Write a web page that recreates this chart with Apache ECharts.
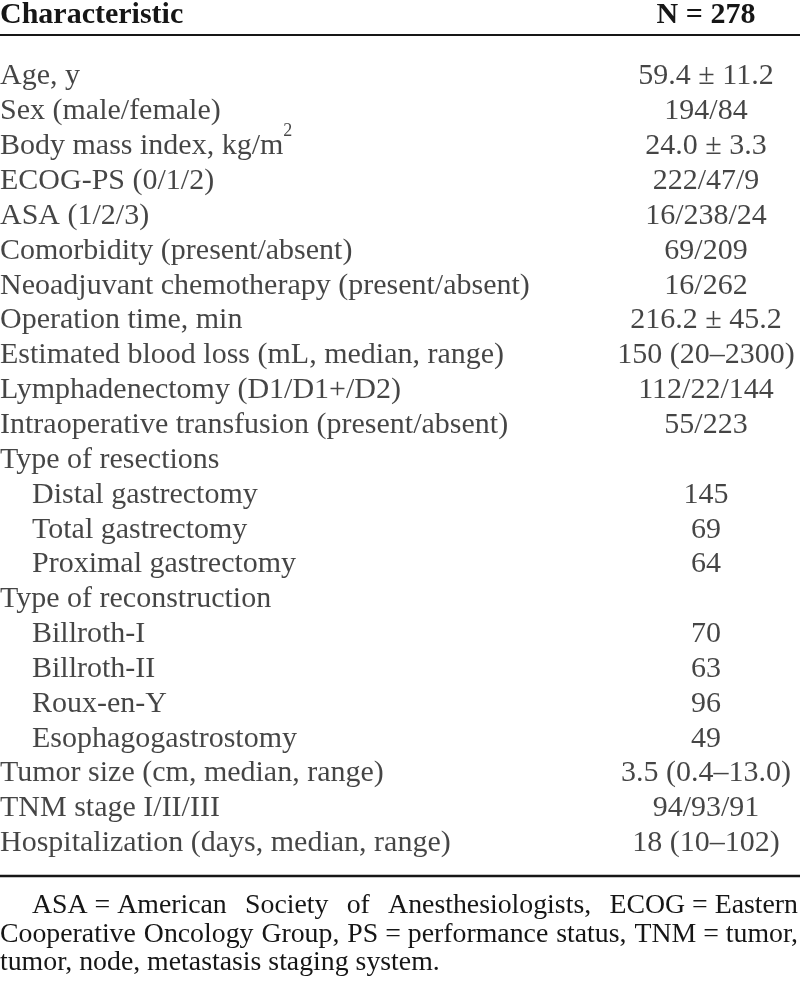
<!DOCTYPE html>
<html><head><meta charset="utf-8">
<script src="https://cdn.jsdelivr.net/npm/echarts@6/dist/echarts.min.js"></script>
<style>html,body{margin:0;padding:0;background:#fff}#c{width:800px;height:985px}</style>
</head><body><div id="c"></div>
<script>
const headerLabel = 'Characteristic';
const headerValue = 'N = 278';
const rowLabels = [
  'Age, y',
  'Sex (male/female)',
  'Body mass index, kg/m{sup|2}{tall|\u200b}',
  'ECOG-PS (0/1/2)',
  'ASA (1/2/3)',
  'Comorbidity (present/absent)',
  'Neoadjuvant chemotherapy (present/absent)',
  'Operation time, min',
  'Estimated blood loss (mL, median, range)',
  'Lymphadenectomy (D1/D1+/D2)',
  'Intraoperative transfusion (present/absent)',
  'Type of resections',
  'Distal gastrectomy',
  'Total gastrectomy',
  'Proximal gastrectomy',
  'Type of reconstruction',
  'Billroth-I',
  'Billroth-II',
  'Roux-en-Y',
  'Esophagogastrostomy',
  'Tumor size (cm, median, range)',
  'TNM stage I/II/III',
  'Hospitalization (days, median, range)'
];
const rowLevels = [0,0,0,0,0,0,0,0,0,0,0,0,1,1,1,0,1,1,1,1,0,0,0];
const rowValues = [
  '59.4 \u00b1 11.2',
  '194/84',
  '24.0 \u00b1 3.3',
  '222/47/9',
  '16/238/24',
  '69/209',
  '16/262',
  '216.2 \u00b1 45.2',
  '150 (20\u20132300)',
  '112/22/144',
  '55/223',
  '',
  '145',
  '69',
  '64',
  '',
  '70',
  '63',
  '96',
  '49',
  '3.5 (0.4\u201313.0)',
  '94/93/91',
  '18 (10\u2013102)'
];
const footnoteLines = [
  ['ASA = American', 'Society', 'of', 'Anesthesiologists,', 'ECOG = Eastern'],
  ['Cooperative', 'Oncology', 'Group,', 'PS = performance', 'status,', 'TNM = tumor,'],
  ['tumor, node, metastasis staging system.']
];

const FONT = '"Liberation Serif","Times New Roman",Times,serif';
const INK = '#161616';
const INDENT = 32;
const VALUE_X = 706;
const ROW_H = 34.85;
const FIRST_MID = 76.6;

const chart = echarts.init(document.getElementById('c'), null, {renderer: 'canvas'});

const cv = document.createElement('canvas').getContext('2d');
function measure(t, size) { cv.font = size + 'px ' + FONT; return cv.measureText(t).width; }

const footSize = 27.8;
const footMid = [905.5, 934.5, 962.5];
const footSpan = [[32, 798], [0, 798], null];
const graphics = [
  {type: 'line', shape: {x1: 0, y1: 35, x2: 800, y2: 35}, style: {stroke: INK, lineWidth: 2}, silent: true},
  {type: 'line', shape: {x1: 0, y1: 876, x2: 800, y2: 876}, style: {stroke: INK, lineWidth: 2.5}, silent: true},
  {type: 'text', x: 0, y: 15.5, silent: true,
   style: {text: headerLabel, font: 'bold 30px ' + FONT, fill: INK, textAlign: 'left', textVerticalAlign: 'middle', verticalAlign: 'middle'}},
  {type: 'text', x: VALUE_X, y: 15.5, silent: true,
   style: {text: headerValue, font: 'bold 30px ' + FONT, fill: INK, textAlign: 'center', align: 'center', textVerticalAlign: 'middle', verticalAlign: 'middle'}}
];
footnoteLines.forEach((words, li) => {
  const span = footSpan[li];
  if (!span) {
    graphics.push({type: 'text', x: 0, y: footMid[li], silent: true,
      style: {text: words.join(' '), font: footSize + 'px ' + FONT, fill: INK, textAlign: 'left', textVerticalAlign: 'middle', verticalAlign: 'middle'}});
    return;
  }
  const widths = words.map(w => measure(w, footSize));
  const total = widths.reduce((a, b) => a + b, 0);
  const gap = (span[1] - span[0] - total) / (words.length - 1);
  let x = span[0];
  words.forEach((w, i) => {
    graphics.push({type: 'text', x: x, y: footMid[li], silent: true,
      style: {text: w, font: footSize + 'px ' + FONT, fill: INK, textAlign: 'left', textVerticalAlign: 'middle', verticalAlign: 'middle'}});
    x += widths[i] + gap;
  });
});

const n = rowLabels.length;
const gridTop = FIRST_MID - ROW_H / 2;
const gridBottom = 985 - (gridTop + n * ROW_H);

chart.setOption({
  animation: false,
  backgroundColor: '#ffffff',
  grid: {left: 0, right: 0, top: gridTop, bottom: gridBottom},
  xAxis: {type: 'value', min: 0, max: 800, show: false},
  yAxis: {type: 'category', inverse: true, data: rowLabels, show: false},
  series: [
    {
      type: 'scatter', symbolSize: 0, silent: true,
      data: rowLabels.map((t, i) => ({value: [rowLevels[i] * INDENT, i], name: t})),
      label: {
        show: true, position: 'right', distance: 0,
        formatter: p => p.name,
        fontFamily: FONT, fontSize: 30, lineHeight: 30, color: INK,
        rich: {
          sup: {fontFamily: FONT, fontSize: 18, lineHeight: 18, color: INK, verticalAlign: 'top'},
          tall: {fontFamily: FONT, fontSize: 30, lineHeight: 48, color: INK}
        }
      }
    },
    {
      type: 'scatter', symbolSize: 0, silent: true,
      data: rowValues.map((v, i) => v ? {value: [VALUE_X, i], name: v} : null).filter(Boolean),
      label: {
        show: true, position: 'inside',
        formatter: p => p.name,
        fontFamily: FONT, fontSize: 30, lineHeight: 30, color: INK
      }
    }
  ],
  graphic: graphics
});
</script></body></html>
